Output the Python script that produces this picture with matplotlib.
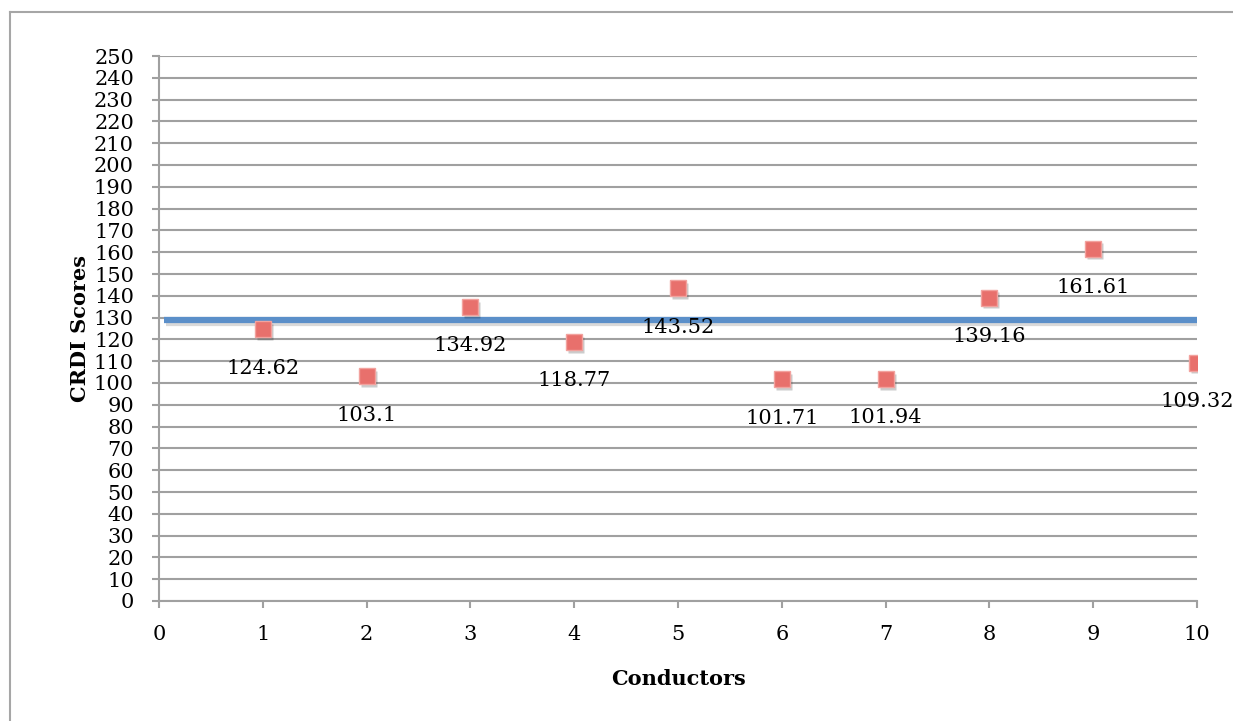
import numpy as np
from matplotlib import pyplot as plt
from matplotlib.lines import Line2D
import matplotlib.transforms as mtransforms

plt.rcParams['font.family'] = ['DejaVu Serif']

conductors = [1, 2, 3, 4, 5, 6, 7, 8, 9, 10]
scores = [124.62, 103.1, 134.92, 118.77, 143.52, 101.71, 101.94, 139.16, 161.61, 109.32]
score_labels = ['124.62', '103.1', '134.92', '118.77', '143.52', '101.71', '101.94', '139.16', '161.61', '109.32']
line_x = [0.05, 10]
line_y = [128.9, 128.9]

fig = plt.figure(figsize=(12.33, 7.21), dpi=100)
# outer chart frame (only left and top edges are visible)
fl, ft = 10/1233, 1 - 12/721
fig.lines.append(Line2D([fl, fl], [0, ft], transform=fig.transFigure, color='#a6a6a6', linewidth=1.5))
fig.lines.append(Line2D([fl, 1], [ft, ft], transform=fig.transFigure, color='#a6a6a6', linewidth=1.5))

ax = fig.add_axes([159/1233, 120/721, (1197-159)/1233, (601-56)/721])

shadow = ax.transData + mtransforms.ScaledTranslation(1.5/72, -2/72, fig.dpi_scale_trans)
ax.plot(line_x, line_y, color='#000000', alpha=0.15, linewidth=4.5, solid_capstyle='butt',
        zorder=2.9, transform=shadow)
ax.plot(line_x, line_y, color='#5b8fc9', linewidth=4.5, solid_capstyle='butt', zorder=3)

ax.plot(conductors, scores, linestyle='none', marker='s', markersize=12,
        markerfacecolor='#000000', markeredgecolor='none', alpha=0.2, zorder=3.9, transform=shadow)
ax.plot(conductors, scores, linestyle='none', marker='s', markersize=12,
        markerfacecolor='#e8706c', markeredgecolor='#f2a29e', markeredgewidth=1, zorder=4)

for x, y, s in zip(conductors, scores, score_labels):
    ax.annotate(s, (x, y), xytext=(0, -28), textcoords='offset points',
                ha='center', va='center', fontsize=15, zorder=5)

ax.set_xlim(0, 10)
ax.set_ylim(0, 250)
ax.set_xticks(np.arange(0, 11, 1))
ax.set_yticks(np.arange(0, 251, 10))
ax.grid(axis='y', color='#a0a0a0', linewidth=1.5)
ax.set_axisbelow(True)
for side in ['top', 'right']:
    ax.spines[side].set_visible(False)
for side in ['left', 'bottom']:
    ax.spines[side].set_color('#a0a0a0')
    ax.spines[side].set_linewidth(1.5)
ax.tick_params(axis='both', colors='#a0a0a0', width=1.5, length=5, labelcolor='black', labelsize=15)
ax.tick_params(axis='x', pad=12)
ax.tick_params(axis='y', pad=13)
ax.set_xlabel('Conductors', fontsize=15, fontweight='bold', labelpad=18)
ax.set_ylabel('CRDI Scores', fontsize=15, fontweight='bold', labelpad=3)

fig.savefig('out.png', dpi=100)
